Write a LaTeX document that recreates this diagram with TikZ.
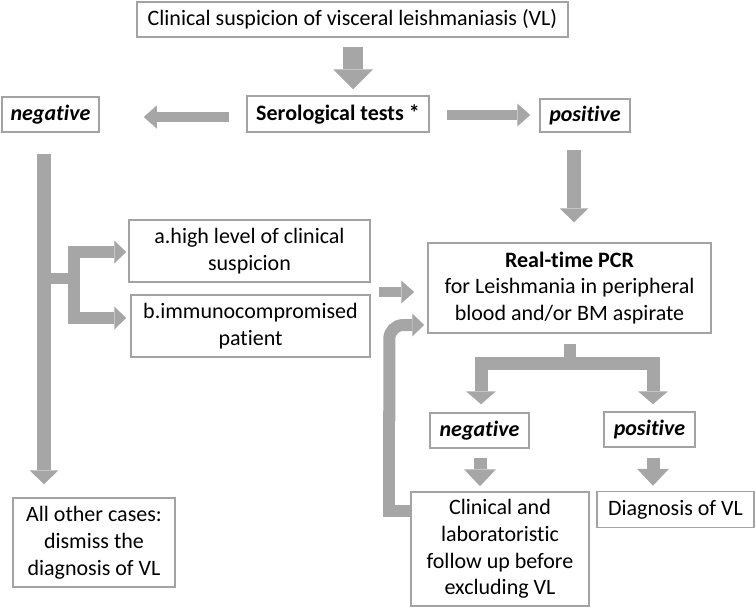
\documentclass[tikz,border=0pt]{standalone}
\usepackage{fontspec}
\setmainfont[Ligatures=NoCommon]{Carlito}
\usetikzlibrary{arrows.meta,calc}
\definecolor{ag}{HTML}{A6A6A6}
\definecolor{bgray}{HTML}{A3A3A3}
\tikzset{
  box/.style={draw=bgray, line width=1.5pt, fill=white, align=center, inner sep=0pt,
    font=\fontsize{22}{26.8}\selectfont},
  shaft/.style={draw=ag, line width=#1, line join=miter},
  bigarr/.style={draw=ag, line width=20pt, -{Triangle[length=20pt,width=40pt,line width=0pt]}},
  arrA/.style={draw=ag, line width=10pt, -{Triangle[length=13pt,width=23pt,line width=0pt]}},
  arrB/.style={draw=ag, line width=14pt, -{Triangle[length=14pt,width=29pt,line width=0pt]}},
  arrC/.style={draw=ag, line width=12pt, line join=miter, -{Triangle[length=12pt,width=23pt,line width=0pt]}},
  arrD/.style={draw=ag, line width=13pt, line join=miter, -{Triangle[length=13pt,width=30pt,line width=0pt]}},
  arrE/.style={draw=ag, line width=13pt, -{Triangle[length=17pt,width=32pt,line width=0pt]}},
}
\begin{document}
\begin{tikzpicture}[x=1pt,y=-1pt]
\useasboundingbox (0,0) rectangle (756,608);
% nodes
\node[box, minimum width=431pt, minimum height=35pt] (top) at (352.5,19.5) {Clinical suspicion of visceral leishmaniasis (VL)};
\node[box, minimum width=182pt, minimum height=36pt] (sero) at (338,114) {\bfseries Serological tests *};
\node[box, minimum width=97pt, minimum height=35pt] (neg1) at (50.5,114.5) {\bfseries\itshape negative};
\node[box, minimum width=90pt, minimum height=33pt] (pos1) at (585,115.5) {\bfseries\itshape positive};
\node[box, minimum width=241pt, minimum height=62pt] (boxa) at (249.5,251) {a.high level of clinical\\suspicion};
\node[box, minimum width=239pt, minimum height=62pt] (boxb) at (250.5,326) {b.immunocompromised\\patient};
\node[box, minimum width=283pt, minimum height=90pt] (pcr) at (569.5,288) {\textbf{Real-time PCR}\\for Leishmania in peripheral\\blood and/or BM aspirate};
\node[box, minimum width=99pt, minimum height=35pt] (neg2) at (479.5,430.5) {\bfseries\itshape negative};
\node[box, minimum width=91pt, minimum height=35pt] (pos2) at (649.5,429.5) {\bfseries\itshape positive};
\node[box, minimum width=178pt, minimum height=114pt] (follow) at (500,549) {Clinical and\\laboratoristic\\follow up before\\excluding VL};
\node[box, minimum width=157pt, minimum height=36pt] (diag) at (675.5,509.5) {Diagnosis of VL};
\node[box, minimum width=162pt, minimum height=89pt] (other) at (94,542.5) {All other cases:\\dismiss the\\diagnosis of VL};
% connectors
\draw[bigarr] ($(top.south)+(0.5,9)$) -- ($(sero.north)+(15,-6)$);
\draw[arrA] ($(sero.west)+(-17,3)$) -- ($(neg1.east)+(44,2.5)$);
\draw[arrA] ($(sero.east)+(17,1)$) -- ($(pos1.west)+(-9,-0.5)$);
\draw[arrB] ($(pos1.south)+(-11,17)$) -- ($(pcr.north)+(4.5,-20)$);
\draw[arrB] ($(neg1.south)+(-6.5,21)$) -- ($(other.north)+(-50,-13)$);
% branch to a / b
\coordinate (br) at ($(neg1.south)+(-6.5,146)$);
\coordinate (bx) at ($(br)+(30,0)$);
\draw[shaft=11pt] (br) -- (bx);
\draw[arrC] (bx) |- ($(boxa.west)+(-2,1)$);
\draw[arrC] (bx) |- ($(boxb.west)+(-4,-8)$);
\draw[arrA] ($(pcr.west)+(-48,4)$) -- ($(pcr.west)+(-13,4)$);
% split below PCR
\coordinate (sp) at ($(pcr.south)+(0,30)$);
\draw[shaft=12pt] ($(pcr.south)+(0,10)$) -- (sp);
\draw[arrD] (sp) -| ($(neg2.north)+(1.5,-8)$);
\draw[arrD] (sp) -| ($(pos2.north)+(3.5,-7)$);
\draw[arrE] ($(neg2.south)+(0.5,9)$) -- ($(follow.north)+(-20,-5)$);
\draw[arrE] ($(pos2.south)+(3.5,10)$) -- ($(diag.north)+(-22.5,-5)$);
% feedback loop
\coordinate (fb1) at ($(follow.west)+(0,-38)$);
\coordinate (fbc) at ($(fb1)+(-21,0)$);
\draw[shaft=12pt] (fb1) -- (fbc) -- ($(fbc)+(0,-100)$);
\draw[arrC, rounded corners=14pt] ($(fbc)+(0,-90)$) |- ($(pcr.west)+(-3,37)$);
\end{tikzpicture}
\end{document}
